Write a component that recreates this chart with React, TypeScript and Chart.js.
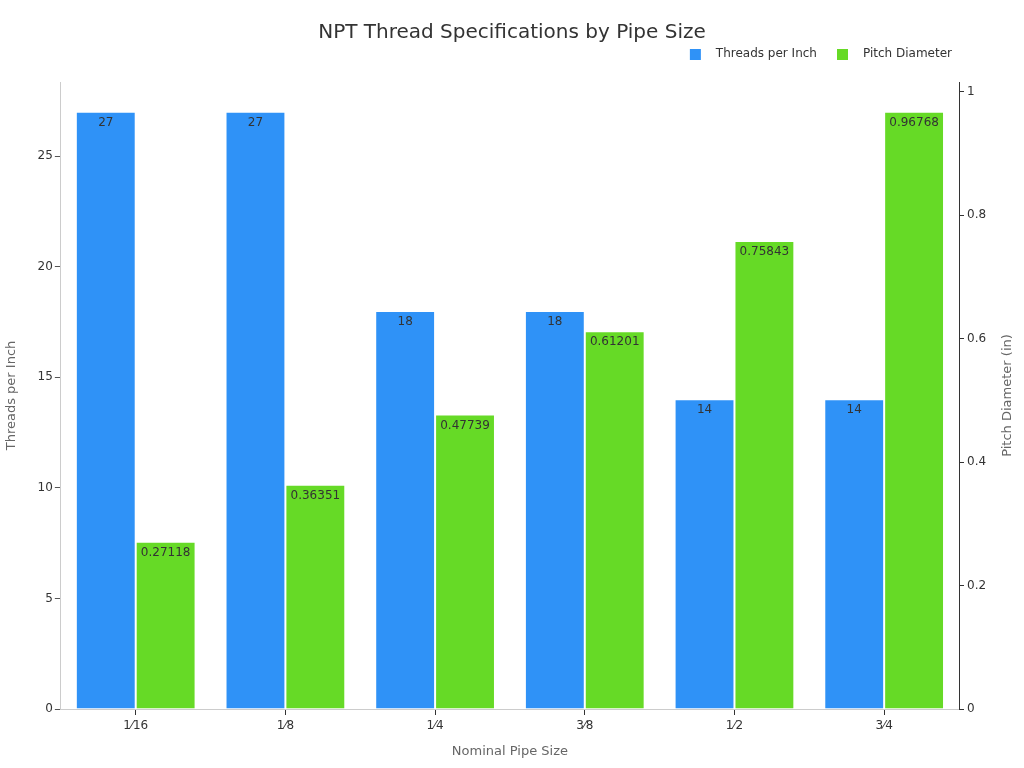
import React, { useEffect, useRef } from "react";
import { Chart, registerables, Plugin } from "chart.js";

Chart.register(...registerables);

const pipeSizes = ["1\u204416", "1\u20448", "1\u20444", "3\u20448", "1\u20442", "3\u20444"];
const threadsPerInch = [27, 27, 18, 18, 14, 14];
const pitchDiameter = [0.27118, 0.36351, 0.47739, 0.61201, 0.75843, 0.96768];
const threadTicks = [0, 5, 10, 15, 20, 25];
const pitchTicks = [0, 0.2, 0.4, 0.6, 0.8, 1];

const FONT = "'DejaVu Sans', sans-serif";
const BLUE = "#2f92f7";
const GREEN = "#66da26";

// value labels just inside the top of each bar
const barLabels: Plugin<"bar"> = {
  id: "barLabels",
  afterDatasetsDraw(chart) {
    const ctx = chart.ctx;
    ctx.save();
    ctx.font = `12px ${FONT}`;
    ctx.fillStyle = "#333333";
    ctx.textAlign = "center";
    ctx.textBaseline = "middle";
    chart.data.datasets.forEach((ds, i) => {
      const meta = chart.getDatasetMeta(i);
      meta.data.forEach((bar: any, j) => {
        ctx.fillText(String(ds.data[j]), bar.x, bar.y + 11);
      });
    });
    ctx.restore();
  },
};

// right axis title reading bottom-to-top, legend nudged into place
const extras: Plugin<"bar"> = {
  id: "extras",
  afterUpdate(chart) {
    const lg: any = chart.legend;
    if (lg) {
      lg.right -= 58;
      lg.top -= 12;
      lg.bottom -= 12;
    }
  },
  afterDraw(chart) {
    const ctx = chart.ctx;
    const area = chart.chartArea;
    ctx.save();
    ctx.font = `13px ${FONT}`;
    ctx.fillStyle = "#666666";
    ctx.textAlign = "center";
    ctx.textBaseline = "middle";
    ctx.translate(1008, (area.top + area.bottom) / 2);
    ctx.rotate(-Math.PI / 2);
    ctx.fillText("Pitch Diameter (in)", 0, 0);
    ctx.restore();
  },
};

// legend marker: 11px square with space around it so the text sits further away
function swatch(color: string) {
  const c = document.createElement("canvas");
  c.width = 30;
  c.height = 11;
  const g = c.getContext("2d")!;
  g.fillStyle = color;
  g.fillRect(10, 0, 11, 11);
  return c;
}

export default function App() {
  const canvasRef = useRef<HTMLCanvasElement>(null);
  const chartRef = useRef<Chart | null>(null);

  useEffect(() => {
    if (!canvasRef.current) return;
    if (chartRef.current) chartRef.current.destroy();

    const swatches = [swatch(BLUE), swatch(GREEN)];

    chartRef.current = new Chart(canvasRef.current, {
      type: "bar",
      data: {
        labels: pipeSizes,
        datasets: [
          {
            label: "Threads per Inch",
            data: threadsPerInch,
            backgroundColor: BLUE,
            borderColor: "rgba(255,255,255,0.5)",
            borderWidth: 1,
            yAxisID: "y",
            categoryPercentage: 0.8,
            barPercentage: 1.0,
          },
          {
            label: "Pitch Diameter",
            data: pitchDiameter,
            backgroundColor: GREEN,
            borderColor: "rgba(255,255,255,0.5)",
            borderWidth: 1,
            yAxisID: "y1",
            categoryPercentage: 0.8,
            barPercentage: 1.0,
          },
        ],
      },
      options: {
        responsive: true,
        maintainAspectRatio: false,
        animation: false,
        layout: { padding: { left: 4, right: 4, top: 0, bottom: 9 } },
        plugins: {
          title: {
            display: true,
            text: "NPT Thread Specifications by Pipe Size",
            color: "#333333",
            font: { family: FONT, size: 20, weight: "normal" },
            padding: { top: 21, bottom: 5 },
          },
          legend: {
            position: "top",
            align: "end",
            labels: {
              color: "#333333",
              font: { family: FONT, size: 12 },
              usePointStyle: true,
              pointStyleWidth: 30,
              boxHeight: 11,
              padding: 10,
              generateLabels: (chart) =>
                Chart.defaults.plugins.legend.labels
                  .generateLabels(chart)
                  .map((item, i) => ({ ...item, pointStyle: swatches[i] })),
            },
          },
          tooltip: { enabled: false },
        },
        scales: {
          x: {
            grid: {
              display: true,
              offset: false,
              drawOnChartArea: false,
              drawTicks: true,
              tickLength: 6,
              color: "#333333",
            },
            border: { color: "#cccccc" },
            ticks: { color: "#333333", font: { family: FONT, size: 12 }, padding: 4 },
            title: {
              display: true,
              text: "Nominal Pipe Size",
              color: "#666666",
              font: { family: FONT, size: 13 },
              padding: { top: 6, bottom: 0 },
            },
          },
          y: {
            position: "left",
            min: 0,
            max: Math.max(...threadsPerInch) * 1.05,
            afterBuildTicks: (scale: any) => {
              scale.ticks = threadTicks.map((value) => ({ value }));
            },
            grid: { display: true, drawOnChartArea: false, drawTicks: true, tickLength: 6, color: "#555555" },
            border: { color: "#cccccc" },
            ticks: { color: "#333333", font: { family: FONT, size: 12 }, padding: 2 },
            title: {
              display: true,
              text: "Threads per Inch",
              color: "#666666",
              font: { family: FONT, size: 13 },
              padding: { top: 0, bottom: 16 },
            },
          },
          y1: {
            position: "right",
            min: 0,
            max: Math.max(...pitchDiameter) * 1.05,
            afterBuildTicks: (scale: any) => {
              scale.ticks = pitchTicks.map((value) => ({ value }));
            },
            afterFit: (scale: any) => {
              scale.width = 61;
            },
            grid: { display: true, drawOnChartArea: false, drawTicks: true, tickLength: 5, color: "#333333" },
            border: { color: "#333333" },
            ticks: {
              color: "#333333",
              font: { family: FONT, size: 12 },
              padding: 3,
              callback: (v: any) => String(v),
            },
          },
        },
      },
      plugins: [barLabels, extras],
    });

    return () => {
      if (chartRef.current) {
        chartRef.current.destroy();
        chartRef.current = null;
      }
    };
  }, []);

  return (
    <div style={{ position: "fixed", left: 0, top: 0, width: 1024, height: 768, background: "#ffffff" }}>
      <canvas ref={canvasRef} />
    </div>
  );
}
